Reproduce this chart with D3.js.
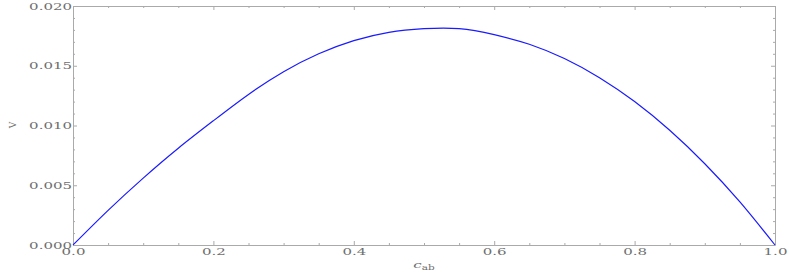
<!DOCTYPE html>
<html>
<head>
<meta charset="utf-8">
<script src="https://cdn.jsdelivr.net/npm/d3@7"></script>
<style>
  body { margin: 0; background: #fff; }
  text { font-family: "DejaVu Serif", serif; fill: #6e6e6e; }
</style>
</head>
<body>
<svg id="chart"></svg>
<script>
// values
const cValues = [0, 0.05, 0.10, 0.15, 0.20, 0.25, 0.30, 0.35, 0.40, 0.45, 0.50,
                 0.55, 0.60, 0.65, 0.70, 0.75, 0.80, 0.85, 0.90, 0.95, 1.00];
const vValues = [0, 0.0029, 0.0056, 0.0081, 0.0104, 0.0126, 0.0145, 0.0160, 0.0171, 0.0178, 0.0181,
                 0.0181, 0.0176, 0.0168, 0.0156, 0.0140, 0.0120, 0.0096, 0.0068, 0.0036, 0];
const xTicks = [0, 0.2, 0.4, 0.6, 0.8, 1.0];
const yTicks = [0, 0.005, 0.010, 0.015, 0.020];
const xMinor = [0.05, 0.1, 0.15, 0.25, 0.3, 0.35, 0.45, 0.5, 0.55, 0.65, 0.7, 0.75, 0.85, 0.9, 0.95];
const yMinor = [0.001, 0.002, 0.003, 0.004, 0.006, 0.007, 0.008, 0.009, 0.011, 0.012, 0.013, 0.014,
                0.016, 0.017, 0.018, 0.019];

const width = 789, height = 273;
const margin = { top: 6, right: 14, bottom: 28, left: 73 };
const stretch = 1.5;

const svg = d3.select("#chart")
    .attr("width", width)
    .attr("height", height);

const x = d3.scaleLinear().domain([0, 1]).range([margin.left, width - margin.right]);
const y = d3.scaleLinear().domain([0, 0.02]).range([height - margin.bottom, margin.top]);

const frameColor = "#aaaaaa";

function styleAxis(g) {
    g.selectAll("path.domain").attr("stroke", frameColor);
    g.selectAll(".tick line").attr("stroke", frameColor);
}

// bottom axis with labels
svg.append("g")
    .attr("transform", `translate(0,${y(0)})`)
    .call(d3.axisBottom(x).tickValues(xTicks).tickFormat(d3.format(".1f"))
        .tickSizeInner(-4).tickSizeOuter(0).tickPadding(3))
    .call(styleAxis)
    .call(g => g.selectAll("text")
        .attr("font-size", 10)
        .attr("fill", "#6e6e6e")
        .attr("font-family", "DejaVu Serif, serif")
        .attr("transform", `scale(${stretch},1)`));

svg.append("g")
    .attr("transform", `translate(0,${y(0)})`)
    .call(d3.axisBottom(x).tickValues(xMinor).tickFormat("").tickSizeInner(-2).tickSizeOuter(0))
    .call(styleAxis)
    .call(g => g.select("path.domain").remove());

// left axis with labels
svg.append("g")
    .attr("transform", `translate(${x(0)},0)`)
    .call(d3.axisLeft(y).tickValues(yTicks).tickFormat(d3.format(".3f"))
        .tickSizeInner(-4).tickSizeOuter(0).tickPadding(1))
    .call(styleAxis)
    .call(g => g.selectAll("text")
        .attr("font-size", 10)
        .attr("fill", "#6e6e6e")
        .attr("font-family", "DejaVu Serif, serif")
        .attr("x", -1 / stretch)
        .attr("transform", `scale(${stretch},1)`));

svg.append("g")
    .attr("transform", `translate(${x(0)},0)`)
    .call(d3.axisLeft(y).tickValues(yMinor).tickFormat("").tickSizeInner(-2).tickSizeOuter(0))
    .call(styleAxis)
    .call(g => g.select("path.domain").remove());

// top and right frame
svg.append("g")
    .attr("transform", `translate(0,${y(0.02)})`)
    .call(d3.axisTop(x).tickValues(xTicks).tickFormat("").tickSizeInner(-4).tickSizeOuter(0))
    .call(styleAxis);
svg.append("g")
    .attr("transform", `translate(0,${y(0.02)})`)
    .call(d3.axisTop(x).tickValues(xMinor).tickFormat("").tickSizeInner(-2).tickSizeOuter(0))
    .call(styleAxis)
    .call(g => g.select("path.domain").remove());

svg.append("g")
    .attr("transform", `translate(${x(1)},0)`)
    .call(d3.axisRight(y).tickValues(yTicks).tickFormat("").tickSizeInner(-4).tickSizeOuter(0))
    .call(styleAxis);
svg.append("g")
    .attr("transform", `translate(${x(1)},0)`)
    .call(d3.axisRight(y).tickValues(yMinor).tickFormat("").tickSizeInner(-2).tickSizeOuter(0))
    .call(styleAxis)
    .call(g => g.select("path.domain").remove());

// curve
const points = cValues.map((c, i) => ({ c: c, v: vValues[i] }));
const line = d3.line()
    .x(d => x(d.c))
    .y(d => y(d.v))
    .curve(d3.curveNatural);

svg.append("path")
    .datum(points)
    .attr("fill", "none")
    .attr("stroke", "#1a1aff")
    .attr("stroke-width", 1.2)
    .attr("d", line);

// axis titles
const xLabel = svg.append("text")
    .attr("transform", `translate(${x(0.5)},268) scale(${stretch},1)`)
    .attr("text-anchor", "middle")
    .attr("font-size", 10);
xLabel.append("tspan").attr("font-style", "italic").text("c");
xLabel.append("tspan").attr("font-size", 7).attr("dy", 2).text("ab");

svg.append("text")
    .attr("transform", "translate(16,125) rotate(-90)")
    .attr("text-anchor", "middle")
    .attr("font-size", 9)
    .text("V");
</script>
</body>
</html>
